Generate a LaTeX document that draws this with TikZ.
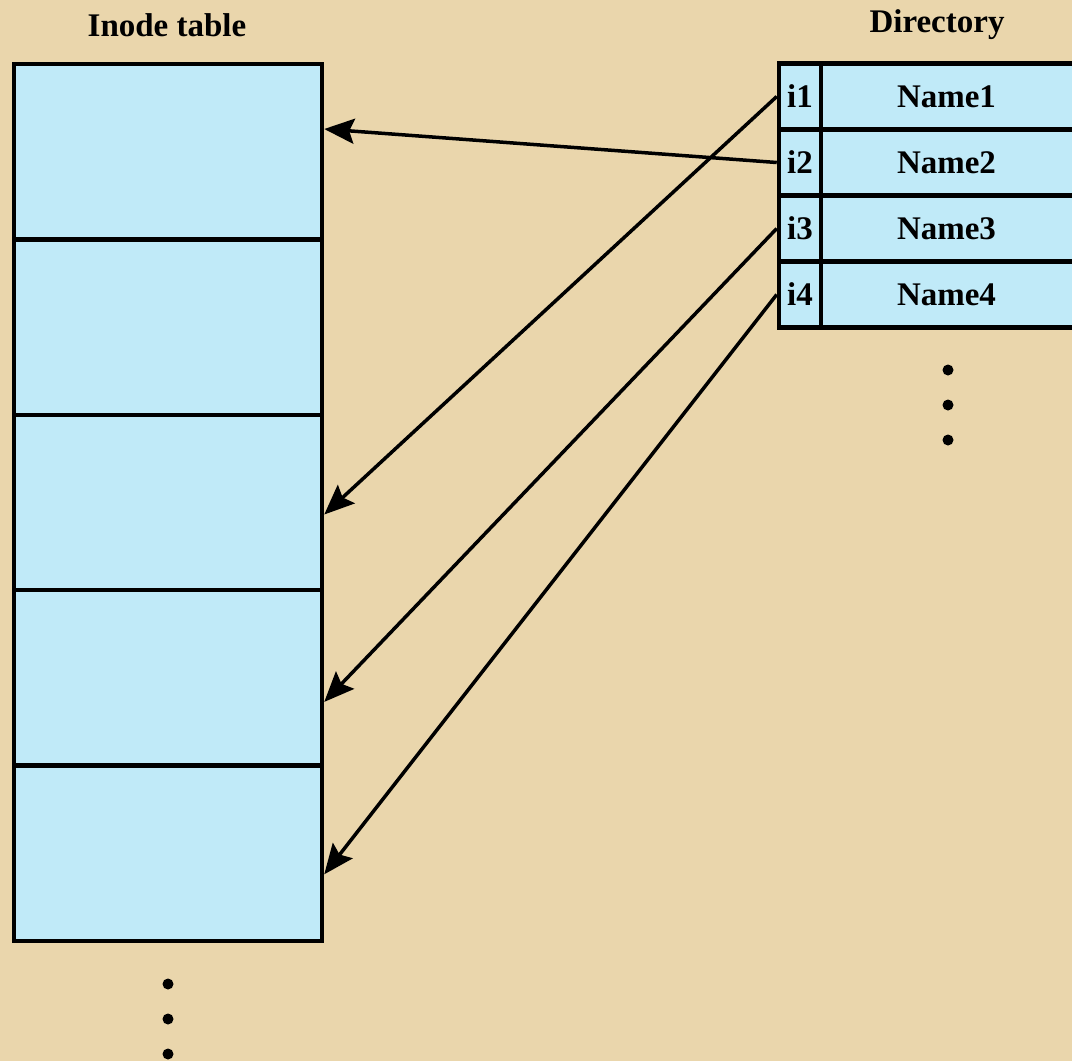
\documentclass[tikz,border=0pt]{standalone}
\usepackage{fontspec}
\setmainfont{Liberation Serif}
\usetikzlibrary{arrows.meta}
\definecolor{parch}{RGB}{234,214,172}
\definecolor{cellblue}{RGB}{192,234,248}
\tikzset{
  inodecell/.style={draw=black, fill=cellblue, line width=4.5pt, minimum width=308pt, minimum height=175.4pt, inner sep=0pt},
  icell/.style={draw=black, fill=cellblue, line width=4.5pt, minimum width=42pt, minimum height=66pt, inner sep=0pt, font=\fontsize{33}{33}\selectfont\bfseries},
  namecell/.style={draw=black, fill=cellblue, line width=4.5pt, minimum width=255pt, minimum height=66pt, inner sep=0pt, font=\fontsize{33}{33}\selectfont\bfseries},
  title/.style={font=\fontsize{33}{33}\selectfont\bfseries, inner sep=0pt},
  ptr/.style={line width=3.5pt, -{Stealth[length=30pt,width=25pt,inset=5pt]}},
  dot/.style={circle, fill=black, minimum size=11pt, inner sep=0pt}
}
\begin{document}
\begin{tikzpicture}[x=1pt,y=-1pt]
\useasboundingbox (0,0) rectangle (1072,1061);
\fill[parch] (0,0) rectangle (1072,1061);
\clip (0,0) rectangle (1072,1061);
\node[title] (tinode) at (167,25) {Inode table};
\node[title] (tdir) at (937,25) {Directory};
\foreach \k in {1,...,5} {
  \node[inodecell] (c\k) at (168,{64+87.7+175.4*(\k-1)}) {};
}
\foreach \k in {1,...,4} {
  \node[icell] (i\k) at (800,{96.5+66*(\k-1)}) {i\k};
  \node[namecell] (n\k) at (948.5,{96.5+66*(\k-1)}) {\hspace*{-4pt}Name\k};
}
\draw[ptr] (i2.west) -- ([yshift=22.7pt]c1.east);
\draw[ptr] (i1.west) -- ([yshift=-12pt]c3.east);
\draw[ptr] (i3.west) -- ([yshift=-24pt]c4.east);
\draw[ptr] (i4.west) -- ([yshift=-21pt]c5.east);
\node[dot] (d1) at (168,984) {};
\node[dot] (d2) at (168,1019) {};
\node[dot] (d3) at (168,1054) {};
\node[dot] (e1) at (948,370) {};
\node[dot] (e2) at (948,405) {};
\node[dot] (e3) at (948,440) {};
\end{tikzpicture}
\end{document}
